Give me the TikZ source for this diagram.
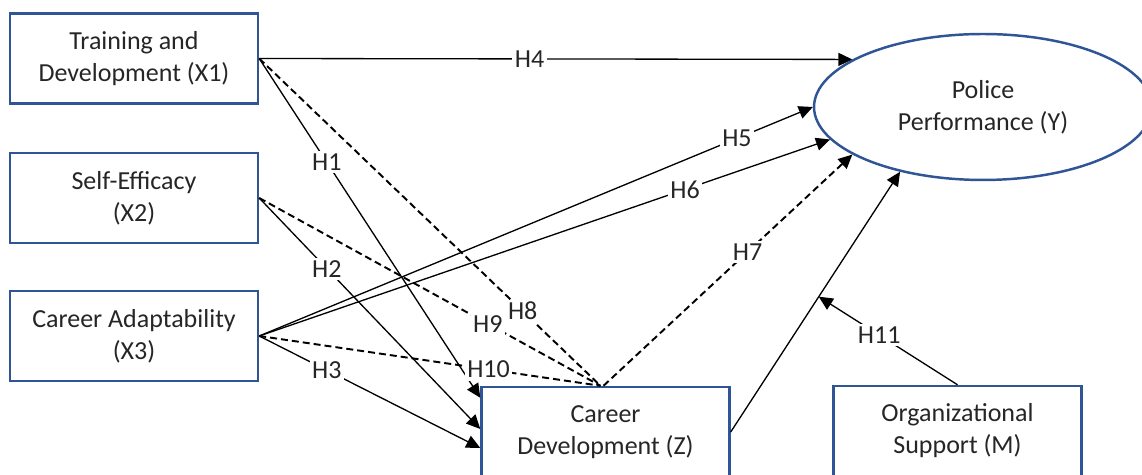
\documentclass[tikz,border=0pt]{standalone}
\usepackage{fontspec}
\setmainfont{Carlito}
\usetikzlibrary{arrows.meta,shapes.geometric,calc}
\definecolor{boxblue}{RGB}{47,85,151}
\definecolor{txt}{RGB}{38,38,38}
\begin{document}
\begin{tikzpicture}[x=0.02cm,y=-0.02cm,
  every node/.style={font=\fontsize{14.8pt}{18.2pt}\selectfont, text=txt},
  varbox/.style={draw=boxblue, line width=1.4pt, rectangle, minimum width=4.96cm, minimum height=1.8cm, align=center, inner sep=0pt},
  varell/.style={draw=boxblue, line width=1.4pt, ellipse, minimum width=6.76cm, minimum height=2.92cm, align=center, inner sep=0pt},
  conn/.style={line width=0.75pt, -{Triangle[length=0.28cm,width=0.26cm]}},
  dline/.style={line width=1.1pt, dash pattern=on 0.14cm off 0.08cm},
  dconn/.style={conn, dline},
  lbl/.style={fill=white, inner sep=1.5pt}]
\useasboundingbox (0,0) rectangle (1142,475);
\fill[white] (0,0) rectangle (1142,475);

\node[varbox] (X1) at (134,58.5) {Training and\\Development (X1)};
\node[varbox] (X2) at (134,198) {Self-Efficacy\\(X2)};
\node[varbox] (X3) at (134,336) {Career Adaptability\\(X3)};
\node[varbox] (Z) at (605.5,432) {Career\\Development (Z)};
\node[varbox] (M) at (957.5,431) {Organizational\\Support (M)};
\node[varell] (Y) at (983,107) {Police\\Performance (Y)};

\coordinate (zc) at ($(Z.north)+(-5,0)$);
\coordinate (zs) at ($(Z.north)+(-2,0)$);

% solid direct paths
\draw[conn] (X1.east) -- node[lbl,pos=0.456]{H4} (Y.160);
\draw[conn] (X1.east) -- node[lbl,pos=0.306]{H1} ($(Z.north west)+(0,12)$);
\draw[conn] (X2.east) -- node[lbl,pos=0.306]{H2} ($(Z.west)+(0,-3)$);
\draw[conn] (X3.east) -- node[lbl,pos=0.306]{H3} ($(Z.west)+(0,16)$);
\draw[conn] (X3.east) -- node[lbl,pos=0.863]{H5} (Y.180);
\draw[conn] (X3.east) -- node[lbl,pos=0.746]{H6} (Y.192);

% dashed indirect paths
\draw[dline] (X1.east) -- node[lbl,pos=0.772]{H8} (zc);
\draw[dline] (X2.east) -- node[lbl,pos=0.67]{H9} (zc);
\draw[dline] (X3.east) -- node[lbl,pos=0.672]{H10} (zc);
\draw[dconn] (zs) -- node[lbl,pos=0.579]{H7} (Y.200);

% Z to Y and moderation
\draw[conn] (Z.east) -- coordinate[pos=0.52] (h11t) (Y.218);
\draw[conn] (M.north) -- node[lbl,pos=0.564]{H11} (h11t);
\end{tikzpicture}
\end{document}
